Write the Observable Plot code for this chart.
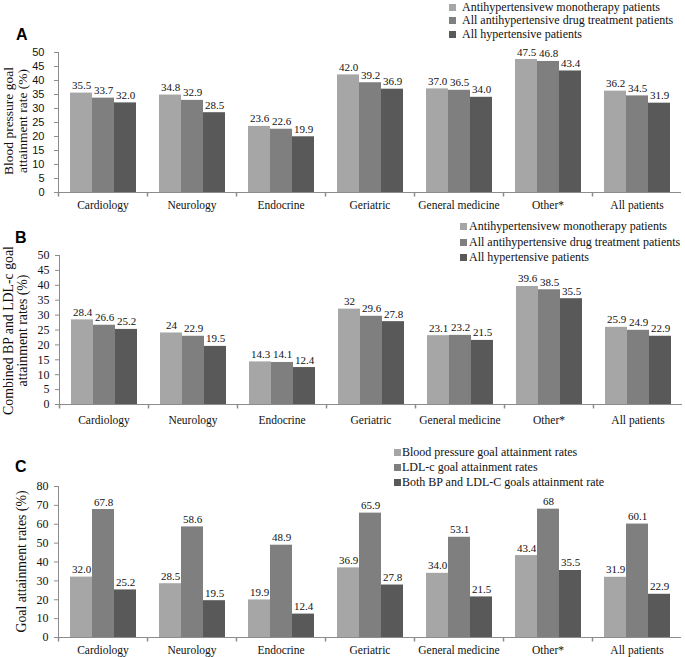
<!DOCTYPE html>
<html><head><meta charset="utf-8">
<script src="https://cdn.jsdelivr.net/npm/d3@7"></script>
<script src="https://cdn.jsdelivr.net/npm/@observablehq/plot@0.6"></script>
<style>
body{margin:0;background:#fff;}
#root{position:relative;width:685px;height:657px;overflow:hidden;background:#fff;font-family:"Liberation Serif","Times New Roman",serif;color:#111;}
.panel{position:absolute;left:0;}
.letter{position:absolute;font:bold 16px/16px "Liberation Sans",Arial,sans-serif;color:#000;}
.ytitle{position:absolute;transform:rotate(-90deg);transform-origin:center center;text-align:center;white-space:nowrap;color:#111;}
.lg{position:absolute;white-space:nowrap;font-size:12px;line-height:13px;color:#111;}
.sw{position:absolute;width:7px;height:7px;}
</style></head>
<body><div id="root"></div>
<script>
const categories = ["Cardiology","Neurology","Endocrine","Geriatric","General medicine","Other*","All patients"];
const treatmentSeries = ["Antihypertensivew monotherapy patients","All antihypertensive drug treatment patients","All hypertensive patients"];
const goalSeries = ["Blood pressure goal attainment rates","LDL-c goal attainment rates","Both BP and LDL-C goals attainment rate"];
const grays = ["#a6a6a6","#7f7f7f","#595959"];

// Panel A: blood pressure goal attainment rate (%)
const bpMonotherapy     = [35.5, 34.8, 23.6, 42.0, 37.0, 47.5, 36.2];
const bpAllTreated      = [33.7, 32.9, 22.6, 39.2, 36.5, 46.8, 34.5];
const bpAllHypertensive = [32.0, 28.5, 19.9, 36.9, 34.0, 43.4, 31.9];
// Panel B: combined BP and LDL-c goal attainment rates (%)
const combMonotherapy     = [28.4, 24, 14.3, 32, 23.1, 39.6, 25.9];
const combAllTreated      = [26.6, 22.9, 14.1, 29.6, 23.2, 38.5, 24.9];
const combAllHypertensive = [25.2, 19.5, 12.4, 27.8, 21.5, 35.5, 22.9];
// Panel C: goal attainment rates (%)
const goalBP   = [32.0, 28.5, 19.9, 36.9, 34.0, 43.4, 31.9];
const goalLDL  = [67.8, 58.6, 48.9, 65.9, 53.1, 68, 60.1];
const goalBoth = [25.2, 19.5, 12.4, 27.8, 21.5, 35.5, 22.9];

const yTicksAB = [0,5,10,15,20,25,30,35,40,45,50];
const yTicksC  = [0,10,20,30,40,50,60,70,80];

const f1 = d3.format(".1f");
const plain = v => String(v);

function rows(series, arrays, formats) {
  return categories.flatMap((cat, i) => series.map((s, j) => ({
    cat, series: s, value: arrays[j][i], label: formats[j](arrays[j][i])
  })));
}

const serif = '"Liberation Serif","Times New Roman",serif';
const sans = '"Liberation Sans",Arial,sans-serif';
const axisGray = "#8c8c8c";
const tickDown = {draw(ctx){ ctx.moveTo(0,0); ctx.lineTo(0,4); }};

function panel(o) {
  return Plot.plot({
    width: 685, height: o.height,
    marginTop: o.marginTop, marginBottom: o.marginBottom,
    marginLeft: o.marginLeft, marginRight: o.marginRight,
    style: {"font-family": serif, "font-size": "11px", "color": "#111", "background": "transparent", "overflow": "visible"},
    fx: {domain: categories, padding: 0},
    x: {domain: o.series, paddingInner: 0, paddingOuter: 0.46, axis: null},
    y: {domain: [0, o.yMax]},
    color: {domain: o.series, range: grays},
    marks: [
      Plot.barY(o.data, {fx: "cat", x: "series", y: "value", fill: "series"}),
      Plot.text(o.data, {fx: "cat", x: "series", y: "value", text: "label", lineAnchor: "bottom", dy: -4, fontSize: 11, fontFamily: serif, fill: "#111"}),
      Plot.ruleY([0], {stroke: axisGray}),
      Plot.frame({anchor: "left", facetAnchor: "left", stroke: axisGray}),
      Plot.dot([0], {frameAnchor: "bottom-left", symbol: tickDown, fill: "none", stroke: axisGray, r: 3}),
      Plot.axisY(o.yTicks, {anchor: "left", tickSize: 4, tickPadding: o.tickPadding, label: null, stroke: axisGray, fill: "#111", fontFamily: o.tickFont, fontSize: o.tickFontSize}),
      Plot.axisFx({anchor: "bottom", tickSize: 0, tickPadding: o.fxPadding, label: null, fontSize: 11.5, fontFamily: serif, fill: "#111"})
    ]
  });
}

const root = document.getElementById("root");
function place(el, top) {
  const d = document.createElement("div");
  d.className = "panel"; d.style.top = top + "px";
  d.appendChild(el); root.appendChild(d);
}

place(panel({
  data: rows(treatmentSeries, [bpMonotherapy, bpAllTreated, bpAllHypertensive], [f1, f1, f1]),
  series: treatmentSeries, yMax: 50, yTicks: yTicksAB,
  height: 215, marginTop: 52, marginBottom: 23, marginLeft: 58, marginRight: 4,
  tickFont: sans, tickFontSize: 11, tickPadding: 10, fxPadding: 8
}), 0);

place(panel({
  data: rows(treatmentSeries, [combMonotherapy, combAllTreated, combAllHypertensive], [plain, plain, plain]),
  series: treatmentSeries, yMax: 50, yTicks: yTicksAB,
  height: 215, marginTop: 40, marginBottom: 26, marginLeft: 57, marginRight: 1,
  tickFont: serif, tickFontSize: 12, tickPadding: 6, fxPadding: 11
}), 215);

place(panel({
  data: rows(goalSeries, [goalBP, goalLDL, goalBoth], [f1, plain, plain]),
  series: goalSeries, yMax: 80, yTicks: yTicksC,
  height: 227, marginTop: 56, marginBottom: 20, marginLeft: 56, marginRight: 3,
  tickFont: serif, tickFontSize: 12, tickPadding: 6, fxPadding: 8
}), 430);

function letter(t, x, top) {
  const d = document.createElement("div");
  d.className = "letter"; d.textContent = t;
  d.style.left = x + "px"; d.style.top = top + "px";
  root.appendChild(d);
}
letter("A", 16, 27); letter("B", 15, 230); letter("C", 15, 459);

function ytitle(lines, cx, cy, fs, lh) {
  const w = 240, h = lines.length * lh;
  const d = document.createElement("div");
  d.className = "ytitle";
  d.style.width = w + "px"; d.style.height = h + "px";
  d.style.left = (cx - w / 2) + "px"; d.style.top = (cy - h / 2) + "px";
  d.style.fontSize = fs + "px"; d.style.lineHeight = lh + "px";
  lines.forEach(l => { const s = document.createElement("div"); s.textContent = l; d.appendChild(s); });
  root.appendChild(d);
}
ytitle(["Blood pressure goal", "attainment rate (%)"], 15.5, 121, 13.5, 14);
ytitle(["Combined BP and LDL-c goal", "attainment rates (%)"], 15, 330, 13.8, 13.5);
ytitle(["Goal attainment  rates (%)"], 21, 561, 13.8, 15);

function legend(series, swX, textX, centers) {
  series.forEach((s, i) => {
    const sw = document.createElement("div");
    sw.className = "sw"; sw.style.background = grays[i];
    sw.style.left = swX + "px"; sw.style.top = (centers[i] - 3.5) + "px";
    root.appendChild(sw);
    const t = document.createElement("div");
    t.className = "lg"; t.textContent = s;
    t.style.left = textX + "px"; t.style.top = (centers[i] - 6.5) + "px";
    root.appendChild(t);
  });
}
legend(treatmentSeries, 449, 462, [7, 20, 34]);
legend(treatmentSeries, 460, 469, [226, 242, 257]);
legend(goalSeries, 394, 402, [452, 467, 482]);
</script>
</body></html>
